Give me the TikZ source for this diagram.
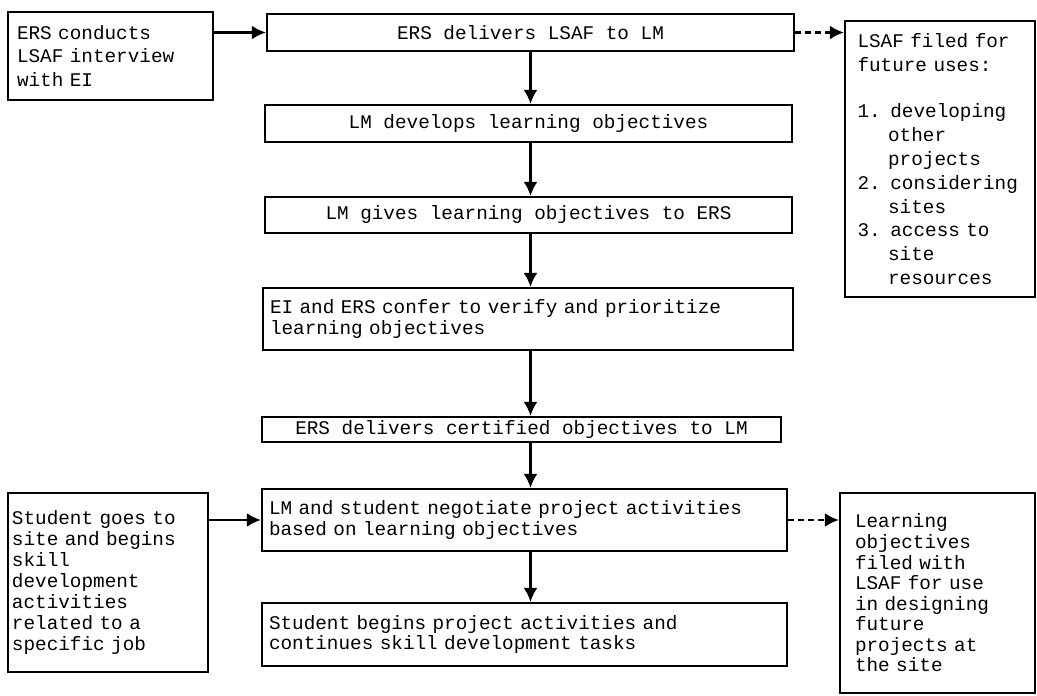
\documentclass[tikz,border=0pt]{standalone}
\usepackage{fontspec}
\setmainfont{Liberation Mono}
\usetikzlibrary{arrows.meta}
\hyphenpenalty=10000
\exhyphenpenalty=10000
\tikzset{stepbox/.style={rectangle, draw=black, line width=1.3pt, inner xsep=0.14cm, inner ysep=0pt, font=\fontsize{11}{11.4}\selectfont},
leftbox/.style={stepbox, align=left},
midbox/.style={stepbox, align=center},
flow/.style={line width=1.3pt, -{Latex[length=2.8mm,width=2.8mm]}},
fileflow/.style={flow, dash pattern=on 0.12cm off 0.08cm},}

\begin{document}
\begin{tikzpicture}
\useasboundingbox (0,0) rectangle (20.74,-13.92);
\node [leftbox, minimum width=4.1cm, minimum height=1.76cm, text width=3.74cm, inner xsep=0.18cm, font=\fontsize{11}{13.4}\selectfont] (a) at (2.21,-1.12) {ERS conducts\\LSAF interview\\with EI};
\node [midbox, minimum width=10.54cm, minimum height=0.74cm] (b) at (10.61,-0.65) {ERS delivers LSAF to LM};
\node [midbox, minimum width=10.54cm, minimum height=0.74cm] (c) at (10.57,-2.47) {LM develops learning objectives};
\node [midbox, minimum width=10.54cm, minimum height=0.72cm] (d) at (10.57,-4.30) {LM gives learning objectives to ERS};
\node [leftbox, minimum width=10.6cm, minimum height=1.24cm, text width=10.32cm] (e) at (10.56,-6.38) {EI and ERS confer to verify and prioritize\\learning objectives};
\node [midbox, minimum width=10.38cm, minimum height=0.5cm] (f) at (10.43,-8.59) {ERS delivers certified objectives to LM};
\node [leftbox, minimum width=10.5cm, minimum height=1.24cm, text width=10.22cm] (g) at (10.49,-10.40) {LM and student negotiate project activities\\based on learning objectives};
\node [leftbox, minimum width=10.5cm, minimum height=1.26cm, text width=10.22cm] (h) at (10.49,-12.69) {Student begins project activities and\\continues skill development tasks};
\node [leftbox, minimum width=4.0cm, minimum height=3.58cm, text width=3.84cm, inner xsep=0.08cm, font=\fontsize{11}{12}\selectfont] (i) at (2.16,-11.65) {Student goes to\\site and begins\\skill\\development\\activities\\related to a\\specific job};
\node [leftbox, minimum width=3.8cm, minimum height=5.52cm, text width=3.3cm, inner xsep=0.25cm, font=\fontsize{11}{13.6}\selectfont] (j) at (18.8,-3.18) {LSAF filed for\\future uses:\\[0.45cm]1. developing\\\hspace*{3ex}other\\\hspace*{3ex}projects\\2. considering\\\hspace*{3ex}sites\\3. access to\\\hspace*{3ex}site\\\hspace*{3ex}resources};
\node [leftbox, minimum width=3.9cm, minimum height=4.0cm, text width=3.3cm, inner xsep=0.3cm, font=\fontsize{11}{11.7}\selectfont] (k) at (18.75,-11.86) {Learning\\objectives\\filed with\\LSAF for use\\in designing\\future\\projects at\\the site};
\draw [flow] (a.east |- b) -- (b);
\draw [flow] (i.east |- g) -- (g);
\draw [flow] (b.south) -- (b.south |- c.north);
\draw [flow] (b.south |- c.south) -- (b.south |- d.north);
\draw [flow] (b.south |- d.south) -- (b.south |- e.north);
\draw [flow] (b.south |- e.south) -- (b.south |- f.north);
\draw [flow] (b.south |- f.south) -- (b.south |- g.north);
\draw [flow] (b.south |- g.south) -- (b.south |- h.north);
\draw [fileflow] (b) -- (j.west |- b);
\draw [fileflow] (g) -- (k.west |- g);
\end{tikzpicture}
\end{document}
